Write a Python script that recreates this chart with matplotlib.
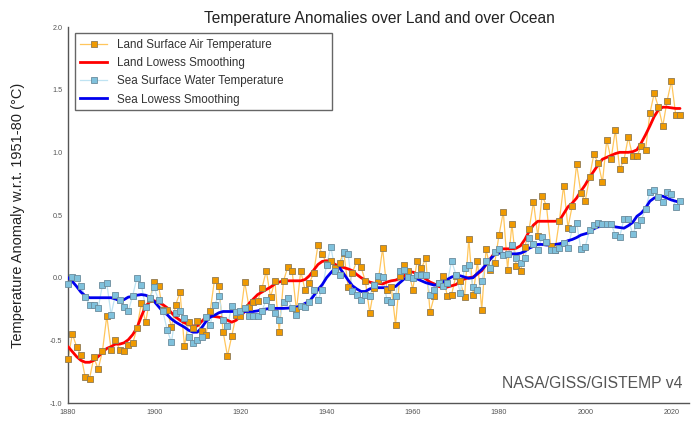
import numpy as np
import matplotlib
matplotlib.use("Agg")
import matplotlib.pyplot as plt
from matplotlib.lines import Line2D
from matplotlib.patches import Rectangle

plt.rcParams['font.family'] = ['Liberation Sans', 'DejaVu Sans']

years = list(range(1880, 2023))
land = [-.65,-.45,-.55,-.62,-.795,-.805,-.635,-.73,-.585,-.305,
 -.575,-.495,-.575,-.585,-.54,-.525,-.405,-.205,-.355,-.17,
 -.035,-.065,-.26,-.255,-.395,-.215,-.115,-.545,-.355,-.405,
 -.345,-.425,-.455,-.265,-.015,-.065,-.435,-.625,-.465,-.30,
 -.305,-.035,-.235,-.195,-.185,-.085,.055,-.155,-.025,-.435,
 -.025,.085,.055,-.26,.055,-.10,-.045,.04,.26,.19,
 .11,.135,.08,.12,.20,-.075,.04,.135,.085,-.03,
 -.28,-.085,-.02,.235,-.10,-.075,-.375,.015,.10,.055,
 -.095,.135,.075,.155,-.275,-.145,-.045,.015,-.145,-.135,
 .015,-.03,-.155,.31,-.135,.13,-.255,.23,.06,.115,
 .34,.525,.065,.43,.09,.05,.245,.39,.605,.33,
 .655,.575,.25,.22,.455,.735,.40,.575,.905,.675,
 .61,.80,.985,.915,.76,1.10,.945,1.18,.865,.94,
 1.12,.97,.97,1.05,1.02,1.31,1.47,1.36,1.21,1.41,
 1.57,1.30,1.30]
sea = [-.05,.005,0,-.065,-.155,-.215,-.215,-.245,-.055,-.045,
 -.295,-.135,-.18,-.235,-.265,-.145,0,-.055,-.235,-.165,
 -.075,-.18,-.265,-.415,-.515,-.285,-.265,-.325,-.475,-.525,
 -.495,-.475,-.315,-.375,-.215,-.145,-.335,-.385,-.225,-.275,
 -.265,-.245,-.305,-.305,-.305,-.265,-.175,-.235,-.28,-.335,
 -.195,-.165,-.245,-.295,-.225,-.235,-.195,-.095,-.175,-.095,
 .105,.245,.05,.025,.205,.19,-.105,-.135,-.175,-.135,
 -.145,-.055,.015,.005,-.175,-.195,-.145,.05,.065,.005,
 0,.025,.02,.025,-.135,-.095,-.045,-.065,-.045,.135,
 .025,-.12,.075,.10,-.075,-.095,-.03,.135,.075,.205,
 .23,.18,.185,.26,.155,.115,.155,.315,.27,.22,
 .325,.285,.22,.22,.235,.275,.235,.39,.44,.225,
 .245,.38,.42,.44,.43,.43,.43,.34,.325,.47,
 .47,.35,.42,.46,.55,.68,.70,.64,.60,.68,
 .67,.56,.61]
land_smooth = [-.55,-.59,-.63,-.66,-.675,-.675,-.66,-.63,-.595,-.565,
 -.55,-.53,-.53,-.52,-.495,-.455,-.40,-.31,-.23,-.19,
 -.185,-.195,-.215,-.24,-.28,-.315,-.34,-.36,-.375,-.385,
 -.385,-.35,-.315,-.305,-.31,-.315,-.325,-.34,-.355,-.34,
 -.31,-.27,-.205,-.17,-.135,-.115,-.095,-.075,-.05,-.035,
 -.025,-.025,-.025,-.025,-.025,-.015,.015,.06,.105,.13,
 .135,.13,.105,.09,.08,.07,.055,.025,0,-.02,
 -.035,-.045,-.045,-.05,-.035,-.025,-.02,-.005,.015,.04,
 .045,.03,.01,-.01,-.035,-.05,-.07,-.08,-.075,-.065,
 -.055,-.03,-.01,0,.005,.03,.055,.105,.15,.20,
 .225,.23,.23,.23,.235,.255,.305,.37,.42,.45,
 .45,.45,.45,.45,.455,.51,.565,.595,.635,.69,
 .74,.80,.85,.90,.945,.96,.975,.99,1.00,1.00,
 1.00,1.005,1.02,1.075,1.14,1.21,1.285,1.34,1.36,1.36,
 1.355,1.35,1.35]
sea_smooth = [0,-.03,-.07,-.115,-.145,-.16,-.16,-.16,-.16,-.16,
 -.16,-.17,-.185,-.175,-.155,-.15,-.14,-.135,-.14,-.155,
 -.19,-.23,-.27,-.295,-.33,-.355,-.375,-.395,-.42,-.435,
 -.435,-.40,-.35,-.315,-.30,-.28,-.27,-.27,-.27,-.27,
 -.27,-.27,-.27,-.27,-.265,-.255,-.25,-.245,-.245,-.245,
 -.245,-.243,-.24,-.235,-.225,-.205,-.19,-.145,-.095,-.055,
 0,.04,.075,.08,.03,-.02,-.065,-.09,-.11,-.11,
 -.09,-.08,-.08,-.08,-.08,-.08,-.07,-.04,-.01,.005,
 .005,-.01,-.025,-.04,-.05,-.06,-.05,-.035,-.015,.005,
 .015,.015,.005,-.005,0,.035,.065,.105,.15,.185,
 .195,.195,.19,.19,.19,.195,.21,.235,.25,.265,
 .265,.26,.26,.265,.27,.28,.295,.305,.32,.34,
 .35,.36,.39,.405,.41,.41,.41,.405,.40,.395,
 .415,.44,.49,.515,.555,.61,.635,.65,.65,.635,
 .62,.61,.60]
title_text = "Temperature Anomalies over Land and over Ocean"
ylabel_text = "Temperature Anomaly w.r.t. 1951-80 (°C)"
credit_text = "NASA/GISS/GISTEMP v4"
xticks = [1880, 1900, 1920, 1940, 1960, 1980, 2000, 2020]
yticks = [-1.0, -0.5, 0.0, 0.5, 1.0, 1.5, 2.0]
legend_labels = ["Land Surface Air Temperature", "Land Lowess Smoothing",
                 "Sea Surface Water Temperature", "Sea Lowess Smoothing"]

ORANGE_LINE, ORANGE, ORANGE_EDGE = "#FFC65C", "#F09A00", "#8F7A52"
BLUE_LINE, BLUEF, BLUE_EDGE = "#BFE3F2", "#7FC1DC", "#6B8C9C"

W, H = 700, 440
fig = plt.figure(figsize=(7, 4.4), dpi=100)
ax = fig.add_axes([68/W, 1-403/H, (689-68)/W, (403-27)/H])
ax.set_xlim(1880, 1880 + (689-68)/4.31)
ax.set_ylim(-1.0, 2.0)

ax.plot(years, land, color=ORANGE_LINE, lw=0.9, zorder=2)
ax.plot(years, sea, color=BLUE_LINE, lw=0.9, zorder=2.1)
ax.plot(years, land_smooth, color="#FF0000", lw=2.0, zorder=3, solid_capstyle='round')
ax.plot(years, sea_smooth, color="#0000EE", lw=2.0, zorder=3.1, solid_capstyle='round')
mk = dict(ls='none', marker='s', ms=3.7, mew=0.6, clip_on=False)
ax.plot(years, land, mfc=ORANGE, mec=ORANGE_EDGE, zorder=5, **mk)
ax.plot(years, sea, mfc=BLUEF, mec=BLUE_EDGE, zorder=6, **mk)

for s in ('top', 'right'):
    ax.spines[s].set_visible(False)
for s in ('left', 'bottom'):
    ax.spines[s].set_color("#555555")
    ax.spines[s].set_linewidth(1.0)
ax.set_xticks(xticks)
ax.set_yticks(yticks)
ax.set_yticklabels([f"{v:.1f}" for v in yticks])
ax.tick_params(length=0, labelsize=5.2, colors="#555555", pad=4)

fig.text(379/W, 1-19/H, title_text, ha='center', va='center', fontsize=11.2, color="#222222")
fig.text(18/W, 1-215/H, ylabel_text, rotation=90, ha='center', va='center', fontsize=10.5, color="#222222")
fig.text(683/W, 1-383/H, credit_text, ha='right', va='center', fontsize=11.3, color="#555555")

ax.add_patch(Rectangle((75/W, 1-110/H), (332-75)/W, (110-33)/H, transform=fig.transFigure,
                       fc="white", ec="#666666", lw=1.0, zorder=9, clip_on=False))
handles = [
    Line2D([], [], color=ORANGE_LINE, lw=0.9, marker='s', ms=3.7, mfc=ORANGE, mec=ORANGE_EDGE, mew=0.6),
    Line2D([], [], color="#FF0000", lw=2.0),
    Line2D([], [], color=BLUE_LINE, lw=0.9, marker='s', ms=3.7, mfc=BLUEF, mec=BLUE_EDGE, mew=0.6),
    Line2D([], [], color="#0000EE", lw=2.0),
]
leg = ax.legend(handles, legend_labels, loc='upper left',
                bbox_to_anchor=((75-68)/(689-68), 1-(34-27)/(403-27)),
                borderaxespad=0, fontsize=8.4, frameon=False, handlelength=2.33,
                handletextpad=0.86, labelspacing=0.53, borderpad=0.43)
for t in leg.get_texts():
    t.set_color("#333333")
leg.set_zorder(10)

fig.savefig("out.png", dpi=100)
